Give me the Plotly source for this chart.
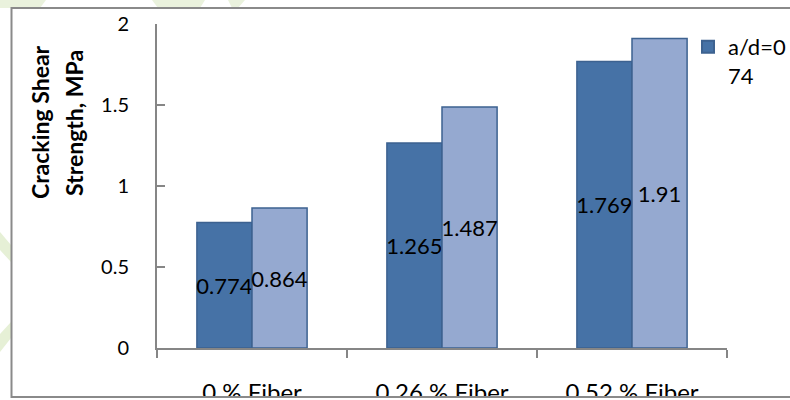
import plotly.graph_objects as go

categories = ["0 % Fiber", "0.26 % Fiber", "0.52 % Fiber"]
series1_name = "a/d=0<br>74"
series1_values = [0.774, 1.265, 1.769]
series2_values = [0.864, 1.487, 1.91]
y_ticks = [0, 0.5, 1, 1.5, 2]
y_tick_labels = ["0", "0.5", "1", "1.5", "2"]
y_title_lines = ["Cracking Shear", "Strength, MPa"]

FONT = "Lato, 'Open Sans', sans-serif"
DARK = "#4672A6"
LIGHT = "#95A9D0"
EDGE = "#3D6290"
AXIS = "#868686"

W, H = 790, 400
L, R, T, B = 157, 63, 24, 52
PW, PH = W - L - R, H - T - B

def px(x):
    return (x - L) / PW

def py(y):
    return (H - B - y) / PH

fig = go.Figure()
fig.add_trace(go.Bar(
    x=categories, y=series1_values, name=series1_name,
    marker=dict(color=DARK, line=dict(color=EDGE, width=1.5)),
    text=[str(v) for v in series1_values],
    textposition="inside", insidetextanchor="middle", constraintext="none",
    textangle=0,
    insidetextfont=dict(family=FONT, size=22, color="black"),
    cliponaxis=False,
))
fig.add_trace(go.Bar(
    x=categories, y=series2_values, name="series2", showlegend=False,
    marker=dict(color=LIGHT, line=dict(color=EDGE, width=1.5)),
    text=[str(v) for v in series2_values],
    textposition="inside", insidetextanchor="middle", constraintext="none",
    textangle=0,
    insidetextfont=dict(family=FONT, size=22, color="black"),
    cliponaxis=False,
))

shapes = [
    # watermark decorations outside the chart frame
    dict(type="path", xref="paper", yref="paper", layer="below",
         path=f"M {px(0)},{py(0)} L {px(46)},{py(0)} L {px(40)},{py(8)} L {px(0)},{py(8)} Z",
         fillcolor="#EAF2DD", line=dict(width=0)),
    dict(type="path", xref="paper", yref="paper", layer="below",
         path=f"M {px(152)},{py(0)} L {px(205)},{py(0)} L {px(200)},{py(8)} L {px(158)},{py(8)} Z",
         fillcolor="#EAF2DD", line=dict(width=0)),
    dict(type="path", xref="paper", yref="paper", layer="below",
         path=f"M {px(228)},{py(0)} L {px(245)},{py(0)} L {px(238)},{py(8)} L {px(232)},{py(8)} Z",
         fillcolor="#EAF2DD", line=dict(width=0)),
    dict(type="path", xref="paper", yref="paper", layer="below",
         path=(f"M {px(0)},{py(232)} L {px(11)},{py(245)} L {px(11)},{py(262)} L {px(0)},{py(250)} Z "
               f"M {px(0)},{py(352)} L {px(11)},{py(338)} L {px(11)},{py(322)} L {px(0)},{py(334)} Z"),
         fillcolor="#E6F0D6", line=dict(width=0)),
    # white area inside frame
    dict(type="rect", xref="paper", yref="paper", layer="below",
         x0=px(11), x1=px(800), y0=py(397), y1=py(8),
         fillcolor="white", line=dict(width=0)),
    # cover below frame (clips the category labels as in the source image)
    dict(type="rect", xref="paper", yref="paper", layer="above",
         x0=px(0), x1=px(800), y0=py(405), y1=py(397.5),
         fillcolor="white", line=dict(width=0)),
    # chart frame
    dict(type="rect", xref="paper", yref="paper", layer="above",
         x0=px(11.5), x1=px(800), y0=py(397), y1=py(8),
         line=dict(color="#8A8A8A", width=2), fillcolor="rgba(0,0,0,0)"),
]

annotations = [
    dict(text=f"<b>{y_title_lines[0]}</b>", xref="paper", yref="paper",
         x=px(40), y=py(122), textangle=-90, showarrow=False,
         font=dict(family=FONT, size=23, color="black"), xanchor="center", yanchor="middle"),
    dict(text=f"<b>{y_title_lines[1]}</b>", xref="paper", yref="paper",
         x=px(74), y=py(123), textangle=-90, showarrow=False,
         font=dict(family=FONT, size=23, color="black"), xanchor="center", yanchor="middle"),
]

fig.update_layout(
    width=W, height=H,
    margin=dict(l=L, r=R, t=T, b=B, pad=0, autoexpand=False),
    paper_bgcolor="white",
    plot_bgcolor="#E8ECF4",
    barmode="group",
    bargap=0.42,
    bargroupgap=0,
    font=dict(family=FONT, color="black"),
    showlegend=True,
    legend=dict(x=px(688), y=py(26), xanchor="left", yanchor="top",
                bgcolor="rgba(0,0,0,0)", font=dict(family=FONT, size=22, color="black"),
                itemsizing="constant", tracegroupgap=0, valign="top"),
    shapes=shapes,
    annotations=annotations,
    xaxis=dict(
        type="category", showline=True, linecolor=AXIS, linewidth=2,
        ticks="outside", ticklen=8, tickwidth=2, tickcolor=AXIS,
        tickson="boundaries", showgrid=False, zeroline=False,
        tickfont=dict(family=FONT, size=24, color="black"),
        ticklabelstandoff=22, automargin=False,
    ),
    yaxis=dict(
        range=[0, 2], tickvals=y_ticks, ticktext=y_tick_labels,
        showline=True, linecolor=AXIS, linewidth=2,
        ticks="inside", ticklen=8, tickwidth=2, tickcolor=AXIS,
        showgrid=False, zeroline=False,
        tickfont=dict(family=FONT, size=20, color="black"),
        ticklabelstandoff=22, automargin=False,
    ),
)

fig.write_html(
    "out.html",
    config={"displayModeBar": False},
    post_script="document.body.style.margin='0';document.body.style.overflow='hidden';",
)
